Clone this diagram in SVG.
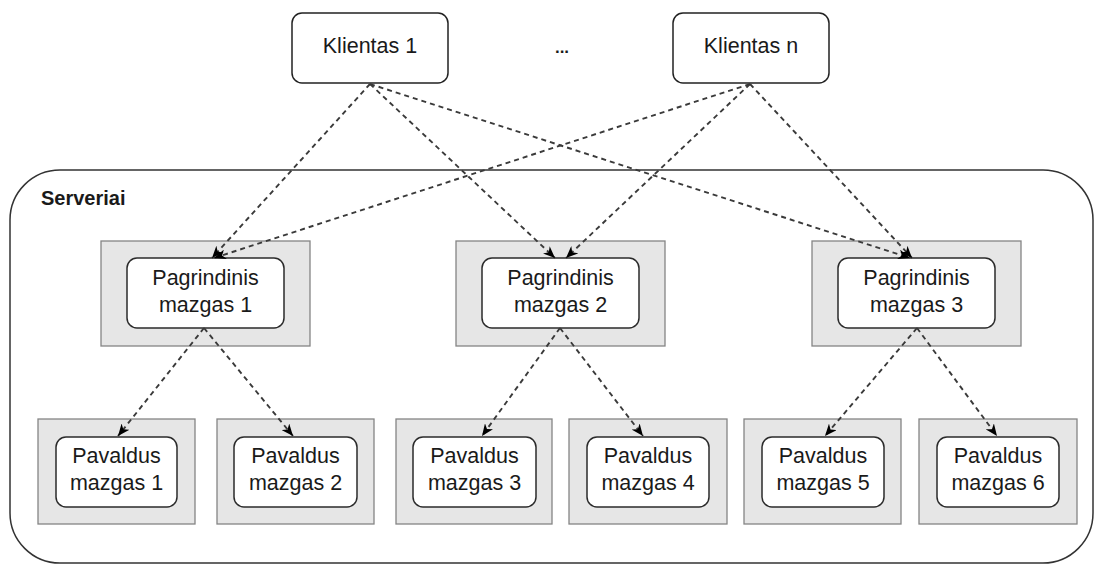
<svg xmlns="http://www.w3.org/2000/svg" width="1095" height="564" viewBox="0 0 1095 564">
  <style>
    .client { fill: #ffffff; stroke: #222222; stroke-width: 1.5; }
    .frame { fill: #e6e6e6; stroke: #858585; stroke-width: 1.3; }
    .node { fill: #ffffff; stroke: #2b2b2b; stroke-width: 1.5; }
    .cluster { fill: none; stroke: #333333; stroke-width: 1.5; }
    .label { font-family: "Liberation Sans", Arial, sans-serif; font-size: 21.5px; fill: #1a1a1a; text-anchor: middle; }
    .bold { font-family: "Liberation Sans", Arial, sans-serif; font-weight: bold; fill: #1a1a1a; }
    .link { fill: none; stroke: #3a3a3a; stroke-width: 1.9; stroke-dasharray: 5 4; marker-end: url(#arrow); }
  </style>
  <defs>
    <marker id="arrow" viewBox="0 0 12 10" refX="12" refY="5" markerWidth="12" markerHeight="10" markerUnits="userSpaceOnUse" orient="auto">
      <path d="M0,0 L12,5 L0,10 L3.5,5 Z" fill="#000000"/>
    </marker>
  </defs>
  <rect width="1095" height="564" fill="#ffffff"/>

  <!-- server cluster -->
  <g id="serveriai">
    <rect class="cluster" x="10" y="170" width="1083" height="393" rx="50" ry="50"/>
    <text class="bold" x="41" y="205" font-size="20">Serveriai</text>
  </g>

  <!-- clients -->
  <g id="klientas-1">
    <rect class="client" x="292" y="13" width="156" height="70" rx="10"/>
    <text class="label" x="370" y="53">Klientas 1</text>
  </g>
  <g id="ellipsis">
    <text class="bold" x="562" y="53" font-size="17" text-anchor="middle">...</text>
  </g>
  <g id="klientas-n">
    <rect class="client" x="673" y="13" width="156" height="70" rx="10"/>
    <text class="label" x="751" y="53">Klientas n</text>
  </g>

  <!-- primary nodes -->
  <g id="pagrindinis-1">
    <rect class="frame" x="101" y="241" width="209" height="105"/>
    <rect class="node" x="127" y="258" width="157" height="70" rx="10"/>
    <text class="label" x="205.5" y="285">Pagrindinis</text>
    <text class="label" x="205.5" y="312">mazgas 1</text>
  </g>
  <g id="pagrindinis-2">
    <rect class="frame" x="456" y="241" width="209" height="105"/>
    <rect class="node" x="482" y="258" width="157" height="70" rx="10"/>
    <text class="label" x="560.5" y="285">Pagrindinis</text>
    <text class="label" x="560.5" y="312">mazgas 2</text>
  </g>
  <g id="pagrindinis-3">
    <rect class="frame" x="812" y="241" width="209" height="105"/>
    <rect class="node" x="838" y="258" width="157" height="70" rx="10"/>
    <text class="label" x="916.5" y="285">Pagrindinis</text>
    <text class="label" x="916.5" y="312">mazgas 3</text>
  </g>

  <!-- subordinate nodes -->
  <g id="pavaldus-1">
    <rect class="frame" x="38" y="419" width="157" height="105"/>
    <rect class="node" x="56" y="437" width="121" height="70" rx="10"/>
    <text class="label" x="116.5" y="463">Pavaldus</text>
    <text class="label" x="116.5" y="490">mazgas 1</text>
  </g>
  <g id="pavaldus-2">
    <rect class="frame" x="217" y="419" width="157" height="105"/>
    <rect class="node" x="234" y="437" width="123" height="70" rx="10"/>
    <text class="label" x="295.5" y="463">Pavaldus</text>
    <text class="label" x="295.5" y="490">mazgas 2</text>
  </g>
  <g id="pavaldus-3">
    <rect class="frame" x="396" y="419" width="156" height="105"/>
    <rect class="node" x="413" y="437" width="123" height="70" rx="10"/>
    <text class="label" x="474.5" y="463">Pavaldus</text>
    <text class="label" x="474.5" y="490">mazgas 3</text>
  </g>
  <g id="pavaldus-4">
    <rect class="frame" x="569" y="419" width="158" height="105"/>
    <rect class="node" x="587" y="437" width="122" height="70" rx="10"/>
    <text class="label" x="648" y="463">Pavaldus</text>
    <text class="label" x="648" y="490">mazgas 4</text>
  </g>
  <g id="pavaldus-5">
    <rect class="frame" x="744" y="419" width="157" height="105"/>
    <rect class="node" x="762" y="437" width="122" height="70" rx="10"/>
    <text class="label" x="823" y="463">Pavaldus</text>
    <text class="label" x="823" y="490">mazgas 5</text>
  </g>
  <g id="pavaldus-6">
    <rect class="frame" x="919" y="419" width="158" height="105"/>
    <rect class="node" x="937" y="437" width="122" height="70" rx="10"/>
    <text class="label" x="998" y="463">Pavaldus</text>
    <text class="label" x="998" y="490">mazgas 6</text>
  </g>

  <!-- connectors -->
  <g id="connectors">
    <line class="link" x1="370" y1="84" x2="212" y2="258"/>
    <line class="link" x1="370" y1="84" x2="555" y2="258"/>
    <line class="link" x1="370" y1="84" x2="910" y2="258"/>
    <line class="link" x1="750" y1="84" x2="214" y2="258"/>
    <line class="link" x1="750" y1="84" x2="566" y2="258"/>
    <line class="link" x1="750" y1="84" x2="912" y2="258"/>
    <line class="link" x1="204" y1="328" x2="118" y2="436"/>
    <line class="link" x1="204" y1="328" x2="293" y2="436"/>
    <line class="link" x1="560" y1="328" x2="482" y2="436"/>
    <line class="link" x1="560" y1="328" x2="643" y2="436"/>
    <line class="link" x1="917" y1="328" x2="825" y2="436"/>
    <line class="link" x1="917" y1="328" x2="997" y2="436"/>
  </g>
</svg>
